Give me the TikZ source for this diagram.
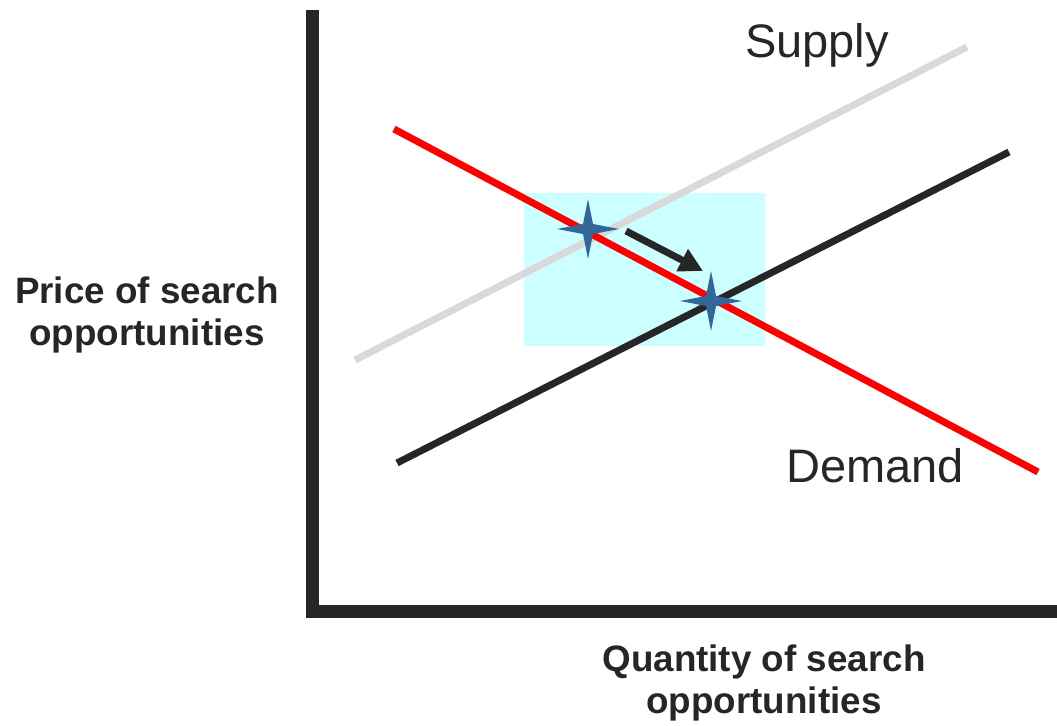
\documentclass[tikz,border=0pt]{standalone}
\usepackage{fontspec}
\setmainfont{Liberation Sans}
\usepackage{xcolor}
\usetikzlibrary{arrows.meta}

\definecolor{darkline}{HTML}{262626}
\definecolor{supplygray}{HTML}{D9D9D9}
\definecolor{regioncyan}{HTML}{CCFFFF}
\definecolor{starblue}{HTML}{336699}

\newcommand\sparkle[1]{\fill[starblue] (#1) +(0,-30) -- +(5,-5) -- +(31,0) -- +(5,5) -- +(0,30) -- +(-5,5) -- +(-31,0) -- +(-5,-5) -- cycle;}

\begin{document}
\begin{tikzpicture}[x=0.5pt,y=-0.5pt,line width=3.5pt]
\useasboundingbox (0,0) rectangle (1057,726);

% shaded region
\coordinate (bx1) at (524,193);
\coordinate (bx2) at (765,346);
\fill[regioncyan] (bx1) rectangle (bx2);

% axes
\coordinate (ax0) at (312.5,10);
\coordinate (ax1) at (312.5,612);
\coordinate (ax2) at (1057,612);
\draw[draw=darkline,line width=6.5pt,miter limit=4] (ax0) -- (ax1) -- (ax2);

% 1
\coordinate (S1) at (355,360);
\coordinate (S2) at (967,47);
\draw[draw=supplygray] (S1) -- (S2);

% 2
\coordinate (N1) at (397,463);
\coordinate (N2) at (1009,152);
\draw[draw=darkline] (N1) -- (N2);

% 3
\coordinate (D1) at (394,129);
\coordinate (D2) at (1038,472);
\draw[draw=red] (D1) -- (D2);

% equilibria
\coordinate (E1) at (588,229);
\coordinate (E2) at (711,301);
\sparkle{E1}
\sparkle{E2}
\draw[-{Triangle[length=11.75pt,width=11.85pt]},draw=darkline,fill=darkline]
  ([shift={(38,2)}]E1) -- ([shift={(-8,-30)}]E2);

\node[anchor=base,text=darkline,font=\fontsize{23.5}{28}\selectfont] (lblS) at (817,58) {Supply};
\node[anchor=base,text=darkline,font=\fontsize{23.5}{28}\selectfont] (lblD) at (875,483) {Demand};

\node[align=center,inner sep=0pt,text=darkline,font=\fontsize{18.4}{21.25}\selectfont\bfseries] (ylab) at (147,315) {Price of search\\opportunities};
\node[align=center,inner sep=0pt,text=darkline,font=\fontsize{18.4}{21.25}\selectfont\bfseries] (xlab) at (764,683) {Quantity of search\\opportunities};

\end{tikzpicture}
\end{document}
